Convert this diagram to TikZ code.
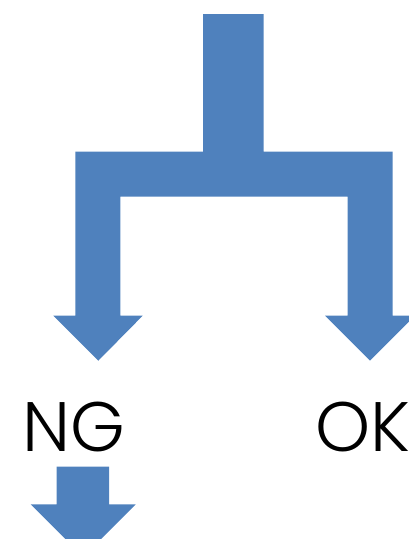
\documentclass[tikz,border=0pt]{standalone}
\usepackage{fontspec}
\IfFontExistsTF{Poppins Light}{\setmainfont{Poppins Light}}{\setmainfont{Poppins}}
\definecolor{officeblue}{HTML}{4F81BD}
\begin{document}
\begin{tikzpicture}[x=1pt,y=-1pt,
  shapefill/.style={fill=officeblue,draw=none},
  label/.style={inner sep=0pt,font=\fontsize{70}{70}\selectfont}]
\useasboundingbox (0,0) rectangle (409,539);
\begin{scope}
\clip (0,0) rectangle (409,539);
\fill[shapefill] (203,14) -- (263.7,14) -- (263.7,151.7) -- (392.7,151.7) -- (392.7,315.7)
  -- (415,315.7) -- (370,360.7) -- (325,315.7) -- (347.7,315.7) -- (347.7,196.7)
  -- (120.3,196.7) -- (120.3,315.7) -- (142.7,315.7) -- (98.3,360.7) -- (53.3,315.7)
  -- (75.3,315.7) -- (75.3,151.7) -- (203,151.7) -- cycle;
\fill[shapefill] (56.7,466.7) -- (109,466.7) -- (109,504.3) -- (135.7,504.3)
  -- (83.2,557) -- (30.7,504.3) -- (56.7,504.3) -- cycle;
\node[label,anchor=base west] (ng) at (22,451) {NG};
\node[label,anchor=base west] (ok) at (315,451) {OK};
\end{scope}
\end{tikzpicture}
\end{document}
